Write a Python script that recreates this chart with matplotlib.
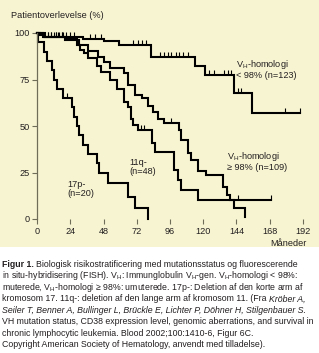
import numpy as np
import matplotlib
matplotlib.use("Agg")
import matplotlib.pyplot as plt
from matplotlib.patches import Rectangle

plt.rcParams['font.family'] = ['Liberation Sans', 'DejaVu Sans']
plt.rcParams['mathtext.fontset'] = 'custom'
plt.rcParams['mathtext.rm'] = 'Liberation Sans'

# Kaplan-Meier kurver (måneder, overlevelse %)
vh_lo_t = [0, 2, 5, 33, 48, 59, 82, 114, 121, 142.5, 155, 190]
vh_lo_s = [100, 99, 98, 96.8, 95.5, 93.5, 87, 82, 77.4, 68, 57, 57]
vh_lo_cens = [8, 10, 12, 14, 16, 18, 21, 24, 27, 38.5, 42, 46, 69, 73, 76, 78.5,
              89, 92, 94.5, 97, 100, 102.5, 105.5, 109, 124, 128, 135, 138, 140,
              145, 147.5, 179, 190]

vh_hi_t = [0, 4, 20, 30, 37, 44, 48, 53, 62.5, 66, 71, 76, 80, 84, 87, 92, 102.5,
           104, 109, 111, 116, 122, 134.5, 137, 139, 142, 150]
vh_hi_s = [100, 98, 96.5, 93.5, 90.5, 87, 84.5, 81, 78.5, 72, 66.7, 65, 61, 57.5,
           54, 51.6, 48, 42.5, 35.5, 31.7, 26, 23.7, 17, 13, 10, 6, 1]
vh_hi_cens = [10, 15, 19, 97]

q11_t = [0, 6, 22, 29, 31, 34, 37, 43.6, 46, 53, 58, 62.5, 65.5, 67.6, 69, 73, 83,
         85, 99, 102, 104, 116, 169]
q11_s = [100, 98, 97, 93.5, 91, 89, 86.5, 82, 79, 75, 70, 63, 60, 54, 50.5, 47.8,
         41, 36, 26.3, 21, 15.6, 10.2, 10.2]
q11_cens = [8, 14, 18, 75, 77, 145, 169]

p17_t = [0, 1, 5, 7, 11, 12.5, 14.5, 19, 25, 27, 29, 30.5, 33, 37, 43.6, 45, 51,
         66, 71, 80]
p17_s = [100, 95, 90, 85, 80, 75, 70, 65, 60, 55, 50, 45, 40, 35, 30, 25, 19.5,
         12, 6, 0]
p17_cens = [22]

x_ticks = [0, 24, 48, 72, 96, 120, 144, 168, 192]
y_ticks = [0, 25, 50, 75, 100]

W, H = 319, 353
beige = '#f7f4d2'
ink = '#231f20'
axcol = '#6f6d58'


def px(x, y):
    return x / W, 1 - y / H


def km_at(t, ts, ss):
    i = np.searchsorted(ts, t, side='right') - 1
    return np.asarray(ss)[i]


fig = plt.figure(figsize=(W / 100, H / 100), dpi=100)
fig.patches.append(Rectangle((0, 1 - 247 / H), 1, 247 / H, transform=fig.transFigure,
                             facecolor=beige, edgecolor='none', zorder=-10))

ax = fig.add_axes([37 / W, 1 - 219 / H, (303 - 37) / W, (219 - 33) / H])
ax.patch.set_alpha(0)
ax.set_xlim(0, 192)
ax.set_ylim(0, 100)

for ts, ss, cens in [(vh_lo_t, vh_lo_s, vh_lo_cens), (vh_hi_t, vh_hi_s, vh_hi_cens),
                     (q11_t, q11_s, q11_cens), (p17_t, p17_s, p17_cens)]:
    ax.plot(ts, ss, drawstyle='steps-post', color='black', lw=1.5, clip_on=False,
            solid_joinstyle='miter')
    ax.plot(cens, km_at(np.array(cens), ts, ss), ls='none', marker=2, ms=3.8,
            mew=0.8, color='black', clip_on=False)

for s in ['top', 'right', 'bottom']:
    ax.spines[s].set_visible(False)
ax.spines['left'].set_color(axcol)
ax.spines['left'].set_linewidth(0.9)

ax.set_xticks(x_ticks)
ax.set_yticks(y_ticks)
ax.tick_params(axis='both', direction='out', length=3.6, width=0.8, color=axcol,
               labelsize=6.6, labelcolor=ink)
ax.tick_params(axis='x', pad=2)
ax.tick_params(axis='y', pad=1.5)

fig.text(*px(11, 15), 'Patientoverlevelse (%)', fontsize=6.6, color=ink, va='center')
fig.text(*px(307, 243), 'Måneder', fontsize=6.6, color=ink, va='center', ha='right')

fig.text(*px(236, 69), 'V$_\\mathregular{H}$-homologi\n< 98% (n=123)', fontsize=6.6,
         color=ink, va='center', linespacing=1.1)
fig.text(*px(227, 161), 'V$_\\mathregular{H}$-homologi\n≥ 98% (n=109)', fontsize=6.6,
         color=ink, va='center', linespacing=1.1)
fig.text(*px(129, 167), '11q-\n(n=48)', fontsize=6.6, color=ink, va='center',
         linespacing=1.1)
fig.text(*px(67, 189), '17p-\n(n=20)', fontsize=6.6, color=ink, va='center',
         linespacing=1.1)

# Figurtekst
VH = 'V$_\\mathregular{H}$'
caption = [
    [('Figur 1.', 'bold', 'normal'),
     ('Biologisk risikostratificering med mutationsstatus og fluorescerende', 'normal', 'normal')],
    [('in situ-hybridisering (FISH). ' + VH + ': Immunglobulin ' + VH + '-gen. ' + VH
      + '-homologi < 98%:', 'normal', 'normal')],
    [('muterede, ' + VH + '-homologi ≥ 98%: umuterede. 17p-: Deletion af den korte arm af',
      'normal', 'normal')],
    [('kromosom 17. 11q-: deletion af den lange arm af kromosom 11. (Fra', 'normal', 'normal'),
     ('Kröber A,', 'normal', 'italic')],
    [('Seiler T, Benner A, Bullinger L, Brückle E, Lichter P, Döhner H, Stilgenbauer S.',
      'normal', 'italic')],
    [('VH mutation status, CD38 expression level, genomic aberrations, and survival in',
      'normal', 'normal')],
    [('chronic lymphocytic leukemia. Blood 2002;100:1410-6, Figur 6C.', 'normal', 'normal')],
    [('Copyright American Society of Hematology, anvendt med tilladelse).', 'normal', 'normal')],
]

renderer = fig.canvas.get_renderer()
y0, dy = 264.5, 11.45
for i, line in enumerate(caption):
    x = 2.0
    for text, weight, style in line:
        t = fig.text(*px(x, y0 + i * dy), text, fontsize=6.3, color=ink, va='center',
                     weight=weight, style=style)
        bb = t.get_window_extent(renderer)
        x = bb.x1 + 2.2

fig.savefig('out.png', dpi=100)
